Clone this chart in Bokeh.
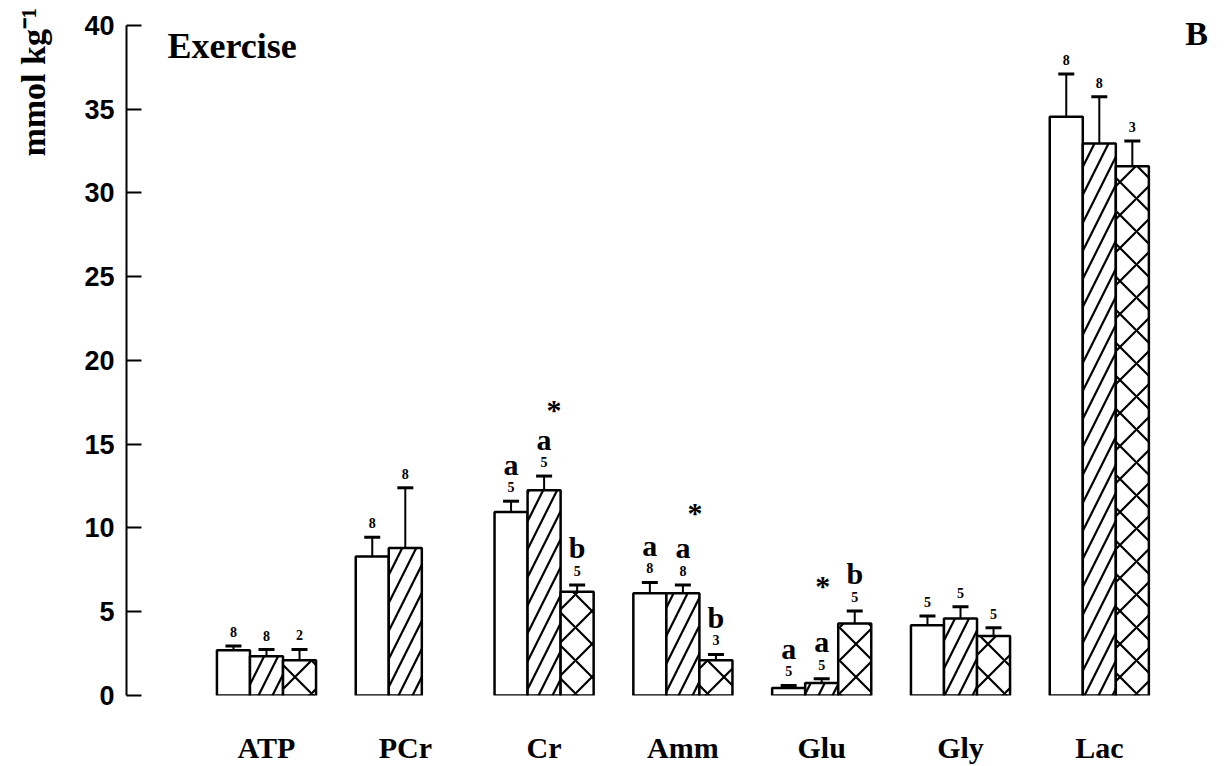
import math
from bokeh.plotting import figure
from bokeh.layouts import row
from bokeh.models import (ColumnDataSource, Whisker, TeeHead, FixedTicker,
                          Label, Range1d)
from bokeh.core.properties import value
from bokeh.embed import file_html
from bokeh.resources import INLINE

# Muscle metabolites after exercise (mmol/kg), three groups per metabolite
groups = ["ATP", "PCr", "Cr", "Amm", "Glu", "Gly", "Lac"]

open_mean = [2.7, 8.3, 10.95, 6.1, 0.45, 4.2, 34.55]
open_err = [0.25, 1.15, 0.65, 0.65, 0.15, 0.55, 2.55]
open_n = ["8", "8", "5", "8", "5", "5", "8"]
open_sig = ["", "", "a", "a", "a", "", ""]

hatch_mean = [2.35, 8.8, 12.25, 6.1, 0.75, 4.6, 32.95]
hatch_err = [0.39, 3.6, 0.85, 0.5, 0.25, 0.7, 2.8]
hatch_n = ["8", "8", "5", "8", "5", "5", "8"]
hatch_sig = ["", "", "a", "a", "a", "", ""]

cross_mean = [2.1, float("nan"), 6.2, 2.1, 4.3, 3.55, 31.6]
cross_err = [0.65, float("nan"), 0.4, 0.35, 0.75, 0.5, 1.5]
cross_n = ["2", "", "5", "3", "5", "5", "3"]
cross_sig = ["", "", "b", "b", "b", "", ""]

# asterisks: group and height (mmol/kg)
star_groups = ["Cr", "Amm", "Glu"]
star_heights = [17.7, 11.55, 7.15]

y_ticks = [0, 5, 10, 15, 20, 25, 30, 35, 40]
y_title = "mmol kg\u207b\u00b9"

SERIF = "Liberation Serif"
SANS = "Liberation Sans"
BW = 0.238  # bar width in group units
H = 766
LEFT_W = 80  # strip holding the vertical unit title

# narrow strip with the rotated unit title (pixel coordinates, y downwards)
t = figure(width=LEFT_W, height=H, output_backend="svg", toolbar_location=None,
           x_range=Range1d(0, LEFT_W), y_range=Range1d(H, 0),
           x_axis_type=None, y_axis_type=None,
           min_border_left=0, min_border_right=0, min_border_top=0,
           min_border_bottom=0)
t.outline_line_color = None
t.xgrid.visible = False
t.ygrid.visible = False
t.text(x=[33], y=[172], text=[y_title], angle=math.pi / 2,
       text_font=value(SERIF), text_font_style="bold", text_font_size="34px",
       text_align="left", text_baseline="alphabetic", text_color="black")

p = figure(width=1229 - LEFT_W, height=H, output_backend="svg",
           toolbar_location=None,
           x_range=Range1d(-1.0086, 6.938), y_range=Range1d(0, 41.49),
           min_border_left=126 - LEFT_W, min_border_right=0, min_border_top=0,
           min_border_bottom=69)
p.outline_line_color = None
p.xgrid.visible = False
p.ygrid.visible = False
p.background_fill_color = "white"
p.border_fill_color = "white"

series = [
    (open_mean, open_err, open_n, open_sig, -BW, None),
    (hatch_mean, hatch_err, hatch_n, hatch_sig, 0.0, "/"),
    (cross_mean, cross_err, cross_n, cross_sig, BW, "x"),
]

for mean, err, ns, sig, off, pattern in series:
    xs, tops, caps, nlab, slab = [], [], [], [], []
    for i, (m, e) in enumerate(zip(mean, err)):
        if math.isnan(m):
            continue
        xs.append(i + off)
        tops.append(m)
        caps.append(m + e)
        nlab.append(ns[i])
        slab.append(sig[i])
    src = ColumnDataSource(dict(x=xs, top=tops, cap=caps, n=nlab, sig=slab))
    kw = dict(x="x", top="top", bottom=0, width=BW, source=src,
              fill_color="white", line_color="black", line_width=2.5)
    if pattern:
        kw.update(hatch_pattern=pattern, hatch_color="black",
                  hatch_weight=2.2,
                  hatch_scale=28 if pattern == "/" else 33)
    p.vbar(**kw)
    p.add_layout(Whisker(source=src, base="x", lower="top", upper="cap",
                         dimension="height", line_color="black",
                         line_width=2,
                         upper_head=TeeHead(size=16, line_width=3,
                                            line_color="black"),
                         lower_head=None))
    p.text(x="x", y="cap", text="n", source=src, y_offset=-14,
           text_font=value(SERIF), text_font_style="bold",
           text_font_size="14px", text_align="center",
           text_baseline="middle", text_color="black")
    p.text(x="x", y="cap", text="sig", source=src, y_offset=-37,
           text_font=value(SERIF), text_font_style="bold",
           text_font_size="30px", text_align="center",
           text_baseline="middle", text_color="black")

star_src = ColumnDataSource(dict(
    x=[groups.index(g) for g in star_groups], y=star_heights,
    t=["*"] * len(star_groups), dx=[10, 12, 1]))
p.text(x="x", y="y", text="t", source=star_src, x_offset="dx", y_offset=10,
       text_font=value(SERIF), text_font_style="bold", text_font_size="30px",
       text_align="center", text_baseline="middle", text_color="black")

# y axis: inward ticks, line limited to 0..40
ya = p.yaxis[0]
ya.ticker = FixedTicker(ticks=y_ticks)
ya.bounds = (0, 40)
ya.major_tick_in = 15
ya.major_tick_out = 0
ya.minor_tick_line_color = None
ya.axis_line_width = 2
ya.major_tick_line_width = 2
ya.major_label_standoff = 12
ya.major_label_text_font = SANS
ya.major_label_text_font_style = "bold"
ya.major_label_text_font_size = "27px"
ya.major_label_text_color = "black"

# x axis carries only the metabolite names
xa = p.xaxis[0]
xa.ticker = FixedTicker(ticks=list(range(len(groups))))
xa.major_label_overrides = {i: g for i, g in enumerate(groups)}
xa.axis_line_color = None
xa.major_tick_line_color = None
xa.minor_tick_line_color = None
xa.major_label_standoff = 29
xa.major_label_text_font = SERIF
xa.major_label_text_font_style = "bold"
xa.major_label_text_font_size = "30px"
xa.major_label_text_color = "black"

p.add_layout(Label(x=41, y=650, x_units="screen", y_units="screen",
                   text="Exercise", text_font=SERIF,
                   text_font_style="bold", text_font_size="36px",
                   text_align="left", text_baseline="middle",
                   text_color="black"))
p.add_layout(Label(x=1070, y=662, x_units="screen", y_units="screen",
                   text="B", text_font=SERIF, text_font_style="bold",
                   text_font_size="34px", text_align="center",
                   text_baseline="middle", text_color="black"))

layout = row(t, p, spacing=0)
open("out.html", "w").write(file_html(layout, INLINE))
